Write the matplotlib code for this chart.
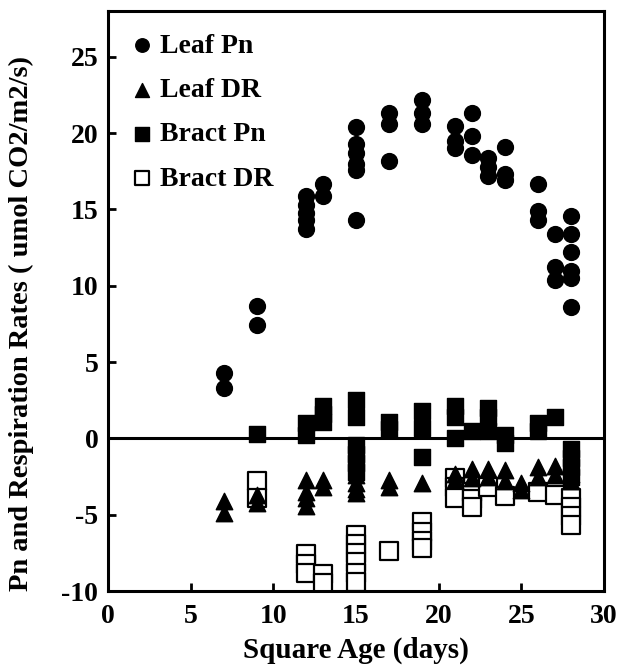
import matplotlib
matplotlib.use("Agg")
import matplotlib.pyplot as plt

plt.rcParams['font.family'] = ['Liberation Serif', 'DejaVu Serif']
plt.rcParams['font.weight'] = 'bold'
plt.rcParams['axes.unicode_minus'] = False

leaf_pn_x = [7, 7, 9, 9, 12, 12, 12, 12, 12, 13, 13, 15, 15, 15, 15, 15, 15,
             17, 17, 17, 19, 19, 19, 21, 21, 21, 22, 22, 22, 23, 23, 23,
             24, 24, 24, 26, 26, 26, 27, 27, 27, 28, 28, 28, 28, 28, 28]
leaf_pn_y = [4.3, 3.3, 8.7, 7.4, 15.9, 15.3, 14.8, 14.3, 13.7, 16.7, 15.9,
             20.4, 19.3, 18.7, 18.0, 17.6, 14.3, 21.3, 20.6, 18.2, 22.2, 21.3, 20.6,
             20.5, 19.5, 19.0, 21.3, 19.8, 18.6, 18.4, 17.8, 17.2, 19.1, 17.3, 16.9,
             16.7, 14.9, 14.3, 13.4, 11.2, 10.4, 14.6, 13.4, 12.2, 11.0, 10.5, 8.6]

leaf_dr_x = [7, 7, 9, 9, 12, 12, 12, 12, 13, 13, 15, 15, 15, 15, 17, 17, 19,
             21, 21, 22, 22, 23, 23, 24, 24, 25, 25, 26, 26, 27, 27, 28, 28]
leaf_dr_y = [-4.1, -4.9, -3.7, -4.2, -2.7, -3.5, -3.9, -4.4, -2.7, -3.2,
             -2.4, -2.9, -3.3, -3.6, -2.7, -3.2, -2.9, -2.3, -2.7, -2.0, -2.6,
             -2.0, -2.5, -2.1, -2.8, -2.9, -3.4, -1.9, -2.5, -1.8, -2.4, -2.3, -2.8]

bract_pn_x = [9, 12, 12, 13, 13, 13, 15, 15, 15, 15, 15, 15, 17, 17, 19, 19, 19,
              21, 21, 21, 22, 23, 23, 23, 24, 24, 26, 26, 27, 28, 28, 28, 28]
bract_pn_y = [0.3, 1.0, 0.2, 2.1, 1.6, 1.1, 2.5, 1.4, -0.4, -1.0, -1.6, -2.2,
              1.1, 0.6, 1.8, 0.7, -1.2, 2.1, 1.4, 0.0, 0.5, 2.0, 1.4, 0.5,
              0.2, -0.3, 1.0, 0.5, 1.4, -0.7, -1.3, -1.9, -2.5]

bract_dr_x = [9, 9, 12, 12, 12, 13, 13, 15, 15, 15, 15, 15, 15, 17, 19, 19, 19, 19,
              21, 21, 21, 22, 22, 22, 23, 24, 26, 27, 28, 28, 28, 28]
bract_dr_y = [-2.8, -3.9, -7.6, -8.2, -8.8, -8.9, -9.5, -6.3, -6.9, -7.5, -8.1,
              -8.8, -9.4, -7.4, -5.5, -6.1, -6.7, -7.2, -2.6, -3.2, -3.9,
              -3.5, -4.0, -4.5, -3.2, -3.8, -3.5, -3.7, -3.9, -4.5, -5.1, -5.7]

x_ticks = [0, 5, 10, 15, 20, 25, 30]
y_ticks = [-10, -5, 0, 5, 10, 15, 20, 25]

fig = plt.figure(figsize=(6.19, 6.72), dpi=100)
ax = fig.add_axes([0.1745, 0.1205, 0.8015, 0.863])

ax.axhline(0, color='black', linewidth=2.2, zorder=1)

ax.scatter(bract_dr_x, bract_dr_y, marker='s', s=150, facecolor='white',
           edgecolor='black', linewidth=1.6, zorder=2, label='Bract DR')
ax.scatter(leaf_dr_x, leaf_dr_y, marker='^', s=140, color='black', zorder=3,
           label='Leaf DR')
ax.scatter(bract_pn_x, bract_pn_y, marker='s', s=140, color='black', zorder=3,
           label='Bract Pn')
ax.scatter(leaf_pn_x, leaf_pn_y, marker='o', s=130, color='black', zorder=4,
           label='Leaf Pn')

ax.set_xlim(0, 30)
ax.set_ylim(-10, 28)
ax.set_xticks(x_ticks)
ax.set_yticks(y_ticks)
ax.tick_params(direction='in', length=6, width=2, labelsize=20)
ax.tick_params(axis='x', pad=9)
ax.tick_params(axis='y', pad=7)
for lab in ax.get_xticklabels() + ax.get_yticklabels():
    lab.set_fontweight('bold')
for sp in ax.spines.values():
    sp.set_linewidth(2.2)

ax.set_xlabel('Square Age (days)', fontsize=21, fontweight='bold', labelpad=6)
ax.set_ylabel('Pn and Respiration Rates ( umol CO2/m2/s)', fontsize=20.5,
              fontweight='bold')
ax.yaxis.set_label_coords(-0.15, 0.462)

handles, labels = ax.get_legend_handles_labels()
order = ['Leaf Pn', 'Leaf DR', 'Bract Pn', 'Bract DR']
hmap = dict(zip(labels, handles))
ax.legend([hmap[k] for k in order], order, loc='upper left', frameon=False,
          prop={'weight': 'bold', 'size': 20}, handletextpad=0.15,
          labelspacing=0.68, borderaxespad=0.0, borderpad=0.8,
          handlelength=1.0, markerscale=0.85,
          bbox_to_anchor=(-0.004, 1.0))

fig.savefig('out.png', dpi=100)
